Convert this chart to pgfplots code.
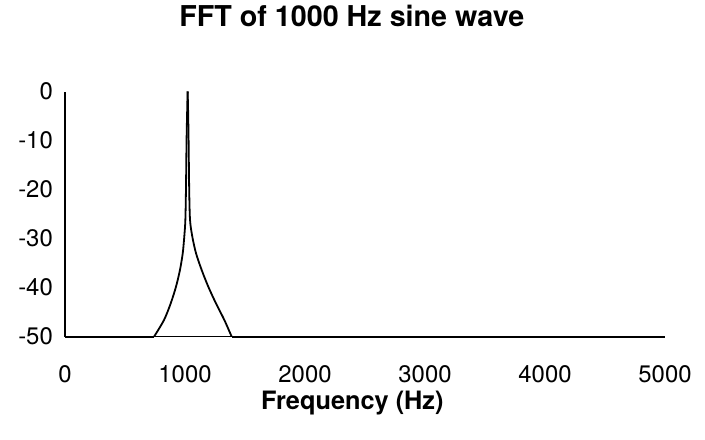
\documentclass[border=0pt]{standalone}
\usepackage{pgfplots}
\pgfplotsset{compat=1.18}
\usepackage{fontspec}
\setmainfont{TeX Gyre Heros}

\begin{document}
\begin{tikzpicture}
\useasboundingbox (-65bp,-103.3bp) rectangle (640bp,336.7bp);
\begin{axis}[
    scale only axis,
    width=600bp, height=245.2bp,
    xmin=0, xmax=5000,
    ymin=-50, ymax=0,
    axis lines=left,
    axis line style={-, line width=1.4bp, black},
    xtick={0,1000,...,5000},
    ytick={-50,-40,...,0},
    major tick length=0pt,
    /pgf/number format/assume math mode=true,
    /pgf/number format/set thousands separator={},
    tick label style={font=\fontsize{24}{28}\selectfont, inner sep=0pt},
    xticklabel style={anchor=base, yshift=-45.5bp},
    yticklabel style={anchor=east, xshift=-12bp},
    title={FFT of 1000 Hz sine wave},
    title style={font=\bfseries\fontsize{28.8}{32}\selectfont, anchor=base,
        at={(0.478,1)}, yshift=59.5bp, inner sep=0pt},
    xlabel={Frequency (Hz)},
    xlabel style={font=\bfseries\fontsize{25.4}{30}\selectfont, anchor=base,
        at={(0.479,0)}, yshift=-73bp, inner sep=0pt},
    clip=false,
]
% flat floor at -50 dB
\addplot[black, line width=1.8bp] coordinates {(0,-50) (742,-50)};
\addplot[black, line width=1.8bp] coordinates {(1389,-50) (5000,-50)};
% rising flank
\addplot[black, line width=1.8bp, smooth, tension=0.5] coordinates {
    (742,-50) (825,-46.6) (881,-43.2) (925,-39.8) (958,-36.4)
    (981,-33.0) (994,-29.6) (1003,-26.2) (1008,-20) (1013,-10)
    (1018,-4) (1022,0)
};
% falling flank
\addplot[black, line width=1.8bp, smooth, tension=0.5] coordinates {
    (1022,0) (1026,-4) (1030,-10) (1035,-20) (1042,-26.2)
    (1061,-29.6) (1092,-33.0) (1139,-36.4) (1194,-39.8)
    (1258,-43.2) (1328,-46.6) (1389,-50)
};
\end{axis}
\end{tikzpicture}
\end{document}
